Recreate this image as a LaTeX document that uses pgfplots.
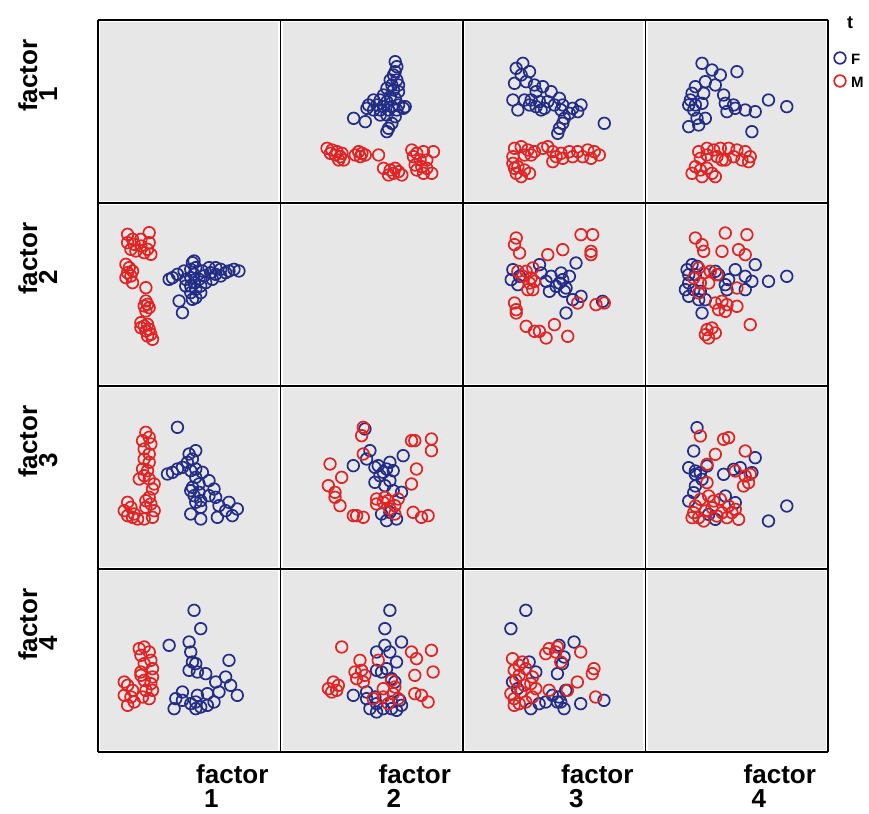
\documentclass[border=0pt]{standalone}
\usepackage{pgfplots}
\pgfplotsset{compat=1.18}
\usepackage{pgfplotstable}
\usepackage{fontspec}
\setmainfont{Liberation Sans}
\definecolor{fblue}{RGB}{35,45,135}
\definecolor{mred}{RGB}{225,35,35}
\definecolor{cellgray}{RGB}{231,231,231}

% pixel-like coordinates inside a cell (0..549 across, measured from the cell's top-left)
\pgfplotstableread{
zx zy
345 125
350 140
345 155
340 165
330 180
350 180
335 195
355 195
320 205
340 210
355 215
310 225
330 230
345 235
300 240
320 245
280 240
265 255
290 255
310 260
335 260
355 255
375 260
280 270
300 270
325 270
350 270
370 265
260 265
300 285
320 285
345 290
220 295
255 305
335 310
325 325
320 335
}\FonetwoB
\pgfplotstableread{
zx zy
140 385
155 390
170 395
185 400
150 400
165 405
180 410
190 420
175 420
235 395
245 400
240 410
225 405
255 405
295 405
310 445
330 450
345 445
340 460
355 455
325 465
365 465
395 390
410 400
430 395
460 395
400 410
420 420
440 420
405 435
425 440
440 445
410 450
430 460
455 460
}\FonetwoR
\pgfplotstableread{
zx zy
180 130
160 145
200 155
175 165
155 190
190 185
215 195
240 200
220 215
265 215
150 240
185 240
205 240
230 245
255 245
290 235
200 255
220 260
245 265
275 255
300 255
330 265
355 255
165 270
235 270
295 270
320 280
345 275
305 295
300 310
290 325
285 340
425 310
}\FonethreeB
\pgfplotstableread{
zx zy
155 385
175 380
195 390
215 395
240 385
255 380
270 395
295 400
320 395
345 395
375 390
395 395
410 405
150 410
185 405
205 405
280 410
300 415
330 410
360 410
385 415
270 425
150 430
165 440
185 450
160 460
200 460
175 470
155 445
}\FonethreeR
\pgfplotstableread{
zx zy
170 130
200 150
225 165
275 155
210 195
180 185
150 200
140 220
175 220
235 225
130 255
150 255
170 250
145 270
240 250
265 255
245 275
270 265
300 270
330 275
370 240
425 260
155 295
180 295
130 320
160 315
320 335
135 240
}\FonefourB
\pgfplotstableread{
zx zy
160 395
185 385
205 390
225 385
250 385
275 390
300 395
315 410
310 425
290 420
265 410
240 420
215 410
185 405
165 415
150 440
140 460
165 450
185 445
200 460
210 470
170 470
230 420
}\FonefourR
\pgfplotstableread{
zx zy
150 200
145 230
165 245
230 185
235 210
250 235
260 265
265 220
295 210
290 240
300 230
310 255
320 220
340 180
355 280
330 290
310 330
420 295
305 265
280 250
170 220
}\FtwothreeB
\pgfplotstableread{
zx zy
160 105
155 125
170 150
255 155
300 140
355 95
390 95
385 145
385 155
165 205
190 205
210 195
180 220
205 225
200 240
215 235
195 260
210 260
155 300
160 320
160 330
190 370
215 385
230 385
250 405
275 365
315 400
345 300
400 305
425 300
}\FtwothreeR
\pgfplotstableread{
zx zy
125 200
140 185
155 190
130 215
150 215
130 240
120 260
145 260
165 265
130 280
160 290
180 290
170 330
210 205
220 215
240 245
245 260
270 200
300 220
330 185
320 235
300 260
370 235
425 220
250 230
}\FtwofourB
\pgfplotstableread{
zx zy
150 105
170 125
175 145
240 90
305 95
230 145
280 140
300 155
160 195
175 210
195 205
145 225
165 240
215 215
190 240
210 300
230 295
245 305
220 320
240 325
275 310
275 255
185 380
200 375
210 390
190 405
180 395
315 365
160 270
}\FtwofourR
\pgfplotstableread{
zx zy
155 125
145 195
130 245
150 255
165 260
185 240
170 280
150 300
145 320
130 345
235 265
265 250
285 245
330 215
320 260
240 330
270 350
190 385
210 400
425 360
370 405
150 265
}\FthreefourB
\pgfplotstableread{
zx zy
165 150
235 160
250 155
210 205
185 235
300 195
270 255
300 270
310 290
295 300
315 265
185 290
190 330
165 340
150 360
145 380
160 395
180 375
200 365
175 405
215 390
230 380
245 395
260 380
280 400
205 345
225 340
250 360
140 395
270 370
}\FthreefourR

\pgfplotsset{
  cell/.style={scale only axis, width=182.5pt, height=183pt,
    xmin=0, xmax=549, ymin=0, ymax=549, hide axis, anchor=south west, clip=true},
  up/.style={cell, y dir=reverse},
  lo/.style={cell, x dir=reverse},
  fpt/.style={only marks, mark=o, mark size=5.8pt, color=fblue, mark options={line width=1.7pt}},
  mpt/.style={only marks, mark=o, mark size=5.8pt, color=mred, mark options={line width=1.7pt}},
}
\newcommand{\upcell}[4]{% x, y (sw corner), blue table, red table
  \begin{axis}[up, at={(#1pt,#2pt)}]
    \addplot[fpt] table[x index=0, y index=1] {#3};
    \addplot[mpt] table[x index=0, y index=1] {#4};
  \end{axis}}
\newcommand{\locell}[4]{%
  \begin{axis}[lo, at={(#1pt,#2pt)}]
    \addplot[fpt] table[x index=1, y index=0] {#3};
    \addplot[mpt] table[x index=1, y index=0] {#4};
  \end{axis}}

\begin{document}
\begin{tikzpicture}
\path[use as bounding box] (0,0) rectangle (869pt,813pt);
\fill[white] (0,0) rectangle (869pt,813pt);
\foreach \c in {0,...,3}{\foreach \r in {0,...,3}{
  \pgfmathsetmacro\xa{98+182.5*\c+2.4}
  \pgfmathsetmacro\xb{98+182.5*(\c+1)-2.4}
  \pgfmathsetmacro\ya{610-183*\r+2.4}
  \pgfmathsetmacro\yb{610-183*\r+183-2.4}
  \fill[cellgray] (\xa pt,\ya pt) rectangle (\xb pt,\yb pt);
}}
% row 1
\upcell{280.5}{610}{\FonetwoB}{\FonetwoR}
\upcell{463}{610}{\FonethreeB}{\FonethreeR}
\upcell{645.5}{610}{\FonefourB}{\FonefourR}
% row 2
\locell{98}{427}{\FonetwoB}{\FonetwoR}
\upcell{463}{427}{\FtwothreeB}{\FtwothreeR}
\upcell{645.5}{427}{\FtwofourB}{\FtwofourR}
% row 3
\locell{98}{244}{\FonethreeB}{\FonethreeR}
\locell{280.5}{244}{\FtwothreeB}{\FtwothreeR}
\upcell{645.5}{244}{\FthreefourB}{\FthreefourR}
% row 4
\locell{98}{61}{\FonefourB}{\FonefourR}
\locell{280.5}{61}{\FtwofourB}{\FtwofourR}
\locell{463}{61}{\FthreefourB}{\FthreefourR}
% legend
\node[font=\bfseries\fontsize{18}{18}\selectfont, inner sep=0] at (850pt,790pt) {t};
\draw[fblue, line width=1.7pt] (840pt,755pt) circle (5.8pt);
\node[font=\bfseries\fontsize{15}{15}\selectfont, anchor=west, inner sep=0] at (851pt,754pt) {F};
\draw[mred, line width=1.7pt] (840pt,732pt) circle (5.8pt);
\node[font=\bfseries\fontsize{15}{15}\selectfont, anchor=west, inner sep=0] at (851pt,731pt) {M};
% frame lines
\foreach \x in {98,280.5,463,645.5,828}{\draw[line width=1.6pt] (\x pt,61pt) -- (\x pt,793pt);}
\foreach \y in {61,244,427,610,793}{\draw[line width=1.6pt] (98pt,\y pt) -- (828pt,\y pt);}
% labels
\foreach \c/\n in {0/1,1/2,2/3,3/4}{
  \node[font=\bfseries\fontsize{26}{26}\selectfont, anchor=base west, inner sep=0] at ({(196+182.5*\c)*1pt},30pt) {factor};
  \node[font=\bfseries\fontsize{26}{26}\selectfont, anchor=base west, inner sep=0] at ({(204+182.5*\c)*1pt},6pt) {\n};
  \node[font=\bfseries\fontsize{26}{26}\selectfont, anchor=base west, inner sep=0, rotate=90] at (37pt,{(701-183*\c)*1pt}) {factor};
  \node[font=\bfseries\fontsize{26}{26}\selectfont, anchor=base west, inner sep=0, rotate=90] at (57pt,{(711-183*\c)*1pt}) {\n};
}
\end{tikzpicture}
\end{document}
